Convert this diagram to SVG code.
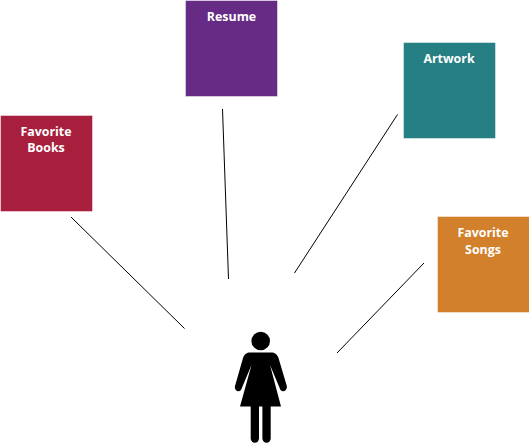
<svg xmlns="http://www.w3.org/2000/svg" width="529" height="448" viewBox="0 0 529 448">
<style>
.box{stroke-width:1;stroke-opacity:.45;stroke:#fff}
.lbl{font-family:"Open Sans","Noto Sans",sans-serif;font-weight:700;font-size:12.400px;fill:#fff;text-anchor:middle}
.conn{stroke:#000;stroke-width:1;fill:none}
</style>
<rect width="529" height="448" fill="#fff"/>
<g id="connectors">
<line class="conn" x1="71" y1="217" x2="184.500" y2="328.500"/>
<line class="conn" x1="222.500" y1="109" x2="228.500" y2="279"/>
<line class="conn" x1="397.500" y1="114.500" x2="294.500" y2="273"/>
<line class="conn" x1="424" y1="263" x2="337" y2="353"/>
</g>
<g id="node-books"><rect class="box" x="0.500" y="115.500" width="92" height="96" fill="#a81e3d"/><text class="lbl" x="46" y="136">Favorite</text><text class="lbl" x="46" y="152">Books</text></g>
<g id="node-resume"><rect class="box" x="185.500" y="0.500" width="92" height="96" fill="#662c85"/><text class="lbl" x="231.500" y="21">Resume</text></g>
<g id="node-artwork"><rect class="box" x="403.500" y="42.500" width="92" height="96" fill="#267f82"/><text class="lbl" x="449" y="63">Artwork</text></g>
<g id="node-songs"><rect class="box" x="437.500" y="216.500" width="92" height="96" fill="#d2802c"/><text class="lbl" x="483" y="237">Favorite</text><text class="lbl" x="483" y="254">Songs</text></g>
<g id="node-person" fill="#000">
<circle cx="260.700" cy="341" r="9.300"/>
<path d="M250 352.500H271.500C274.500 352.500 277 354 278.500 358L286.800 386C287.500 390 283.500 393 280.500 390L270 365L281 406.500H240L251.500 365L241 390C238 393 234 390 235 386L243 358C244.500 354 247 352.500 250 352.500Z"/>
<path d="M250.700 405H259V438.500a4.150 4.150 0 0 1-8.300 0Z"/>
<path d="M262.400 405H270.700V438.500a4.150 4.150 0 0 1-8.300 0Z"/>
</g>
</svg>
